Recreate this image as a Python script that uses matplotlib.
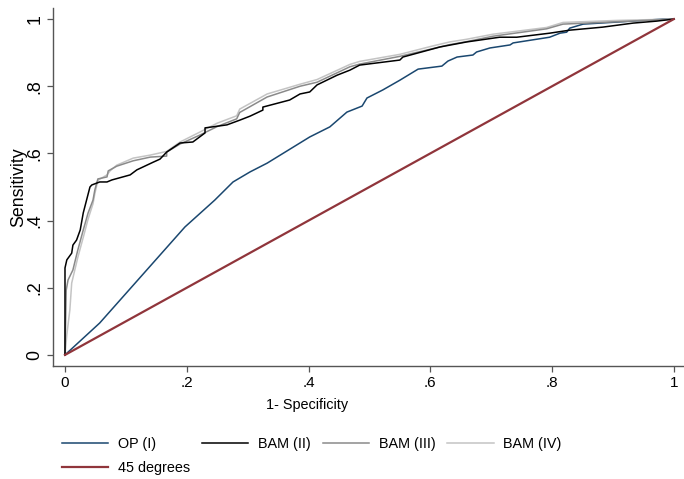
import matplotlib
matplotlib.use('Agg')
import matplotlib.pyplot as plt
import numpy as np

plt.rcParams.update({
    'font.family': ['Liberation Sans', 'DejaVu Sans'],
    'font.size': 10.4,
})

# ROC curves (x = 1-specificity, y = sensitivity)
op_x = [0, .057, .197, .246, .276, .304, .332, .402, .435, .463, .488, .496, .522, .550, .580,
        .619, .629, .644, .670, .676, .698, .731, .736, .796, .813, .824, .829, .851, .906, .982, 1]
op_y = [0, .095, .381, .461, .515, .545, .571, .649, .679, .723, .741, .765, .789, .818, .851,
        .860, .875, .887, .893, .902, .914, .923, .929, .946, .958, .961, .973, .985, .991, 1.0, 1]

bam2_x = [0, 0, .003, .011, .013, .019, .025, .030, .041, .044, .057, .069, .077, .107, .118,
          .145, .156, .167, .189, .210, .230, .230, .266, .287, .304, .325, .325, .369, .386,
          .402, .414, .447, .468, .484, .550, .555, .616, .660, .714, .742, .796, .829, .883,
          .933, .972, 1]
bam2_y = [0, .259, .283, .303, .327, .342, .372, .423, .500, .506, .515, .515, .521, .536, .551,
          .574, .583, .604, .631, .634, .661, .676, .685, .699, .711, .729, .738, .759, .777,
          .783, .804, .833, .848, .863, .878, .887, .917, .932, .946, .946, .958, .967, .976,
          .988, .994, 1]

bam3_x = [0, .002, .005, .013, .021, .030, .038, .046, .049, .054, .069, .071, .085, .112, .140,
          .167, .167, .189, .222, .250, .282, .287, .332, .386, .414, .468, .484, .550, .604,
          .632, .660, .703, .791, .818, .906, 1]
bam3_y = [0, .193, .223, .253, .312, .372, .423, .461, .491, .524, .530, .548, .562, .578, .589,
          .592, .604, .628, .655, .680, .703, .722, .768, .800, .812, .858, .866, .889, .912,
          .924, .933, .949, .971, .985, .992, 1]

bam4_x = [0, .003, .008, .011, .021, .030, .038, .046, .049, .054, .069, .074, .085, .112, .140,
          .167, .189, .222, .250, .282, .287, .332, .386, .414, .468, .484, .550, .604, .632,
          .660, .703, .791, .818, .906, 1]
bam4_y = [0, .060, .134, .214, .290, .350, .405, .450, .480, .520, .536, .548, .565, .586, .595,
          .606, .634, .664, .690, .712, .732, .777, .806, .820, .865, .874, .895, .920, .932,
          .940, .955, .975, .990, .996, 1]

diag = [0, 1]

labels = ['OP (I)', '45 degrees', 'BAM (II)', 'BAM (III)', 'BAM (IV)']
colors = ['#1a476f', '#000000', '#8a8a8a', '#c4c4c4', '#90353b']
yticks = [0, .2, .4, .6, .8, 1]
ytick_labels = ['0', '.2', '.4', '.6', '.8', '1']
xtick_labels = ['0', '.2', '.4', '.6', '.8', '1']

fig = plt.figure(figsize=(6.84, 4.79), dpi=100)
W, H = 684, 479
ax = fig.add_axes([53 / W, 1 - 366 / H, 633 / W, 358 / H])

h_op, = ax.plot(op_x, op_y, color=colors[0], lw=1.1)
h4, = ax.plot(bam4_x, bam4_y, color=colors[3], lw=1.1)
h3, = ax.plot(bam3_x, bam3_y, color=colors[2], lw=1.1)
h2, = ax.plot(bam2_x, bam2_y, color=colors[1], lw=1.1)
h45, = ax.plot(diag, diag, color=colors[4], lw=1.6)

ax.set_xlim(-0.0197, 1.02)
ax.set_ylim(-0.033, 1.033)
ax.set_xticks(yticks)
ax.set_xticklabels(xtick_labels, fontsize=11)
ax.set_yticks(yticks)
ax.set_yticklabels(ytick_labels, rotation=90, va='center', fontsize=12.8)

for s in ['top', 'right']:
    ax.spines[s].set_visible(False)
for s in ['left', 'bottom']:
    ax.spines[s].set_color('#555555')
    ax.spines[s].set_linewidth(1.0)
ax.tick_params(length=4, width=0.9, color='#555555', labelcolor='black', pad=3)

ax.set_xlabel('1- Specificity', va='center')
ax.xaxis.set_label_coords(0.401, -0.109)
ax.set_ylabel('Sensitivity', fontsize=12.8)
ax.yaxis.set_label_coords(-0.040, 0.5)

fig.legend([h_op, h45, h2, h3, h4], labels, ncol=4, frameon=False,
           loc='upper left', bbox_to_anchor=(62 / W, 1 - 437 / H),
           handlelength=3.2, handletextpad=0.68, columnspacing=0.82,
           labelspacing=0.68, borderpad=0, borderaxespad=0)

fig.savefig('out.png', dpi=100)
